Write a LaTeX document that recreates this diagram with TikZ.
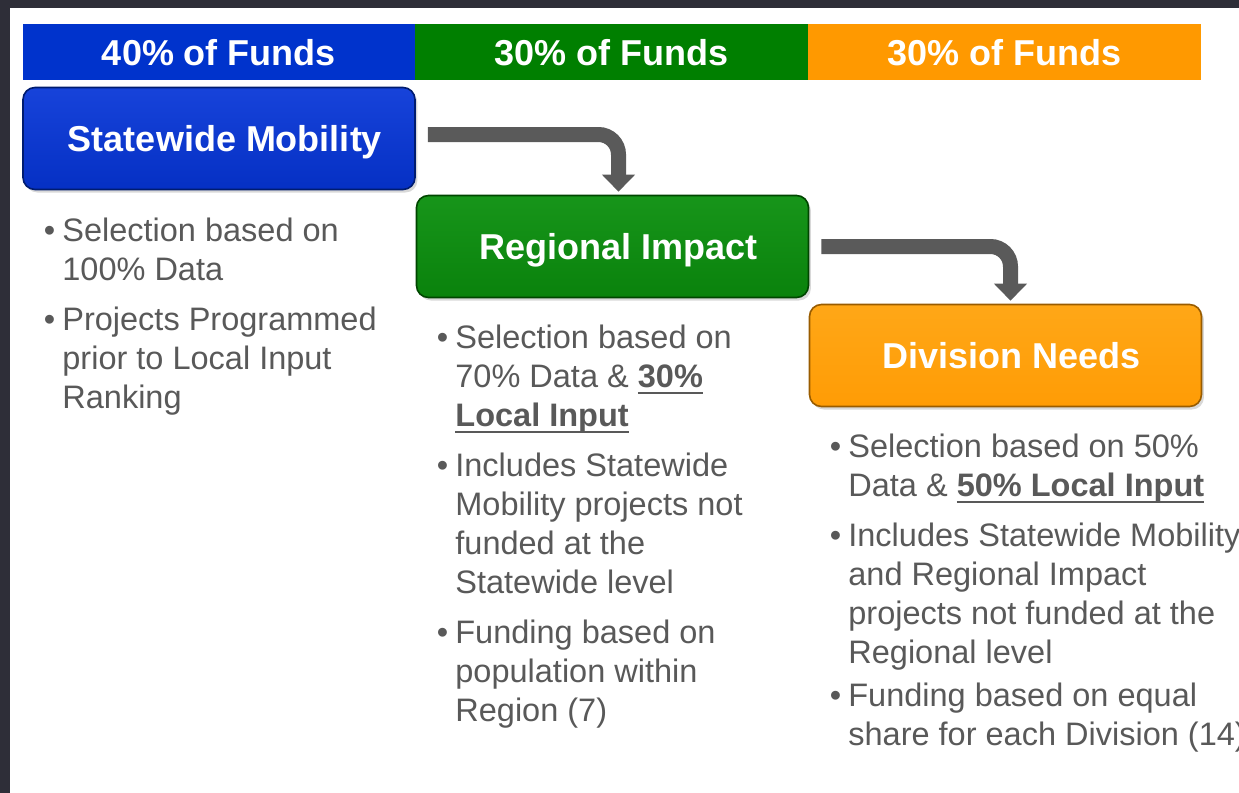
\documentclass[tikz,border=0pt]{standalone}
\usepackage{fontspec}
\setmainfont{Liberation Sans}
\usetikzlibrary{arrows.meta,shadows}

\definecolor{framedark}{HTML}{2E2E38}
\definecolor{fundblue}{HTML}{0033CC}
\definecolor{fundgreen}{HTML}{007F00}
\definecolor{fundorange}{HTML}{FF9900}
\definecolor{notegray}{HTML}{595959}
\definecolor{flowgray}{HTML}{5A5A5A}
\definecolor{smtop}{HTML}{1743DA}
\definecolor{smbot}{HTML}{0530C4}
\definecolor{ritop}{HTML}{17951A}
\definecolor{ribot}{HTML}{0A820C}
\definecolor{dntop}{HTML}{FFA717}
\definecolor{dnbot}{HTML}{FF9C05}

\newsavebox\ulbox
\newcommand{\ulb}[1]{\sbox\ulbox{\textbf{#1}}\usebox\ulbox\llap{\rule[-3.2pt]{\wd\ulbox}{1pt}}}
\newcommand{\bulpt}{\strut\llap{\textbullet\hspace{3.6pt}}}

\tikzset{
  fundbar/.style={rectangle, fill=#1, minimum width=196.5pt, minimum height=28pt,
    inner sep=0pt, text=white, font=\fontsize{18}{20}\selectfont\bfseries,
    text height=13pt, text depth=0pt},
  stagebox/.style n args={3}{rectangle, rounded corners=6pt, top color=#1, bottom color=#2,
    draw=#3, line width=0.8pt, minimum width=196pt, minimum height=51pt, inner sep=0pt,
    text=white, font=\fontsize{18}{20}\selectfont\bfseries, text height=13pt, text depth=0pt,
    execute at begin node=\hspace*{6pt},
    drop shadow={opacity=0.3, shadow xshift=1.2pt, shadow yshift=-1.5pt}},
  notes/.style={anchor=north west, inner sep=0pt, align=left, text=notegray,
    font=\fontsize{16.25}{19.5}\selectfont},
  flow/.style={draw=flowgray, line width=7.5pt, rounded corners=10pt,
    -{Triangle[width=16pt,length=8.5pt]}},
}

\begin{document}
\begin{tikzpicture}[x=0.5pt,y=-0.5pt]
        \useasboundingbox (0,0) rectangle (1239,793);
        \fill[white] (0,0) rectangle (1239,793);
        \fill[framedark] (0,0) rectangle (1239,8);
        \fill[framedark] (0,0) rectangle (10,793);

        \node[fundbar=fundblue] (h1) at (219,52) {40\% of Funds};
        \node[fundbar=fundgreen] (h2) at (611.5,52) {30\% of Funds};
        \node[fundbar=fundorange] (h3) at (1004.5,52) {30\% of Funds};

        \node[stagebox={smtop}{smbot}{fundblue!55!black}] (sm) at (219,138.5) {Statewide Mobility};
        \node[stagebox={ritop}{ribot}{fundgreen!55!black}] (ri) at (612.5,246.5) {Regional Impact};
        \node[stagebox={dntop}{dnbot}{fundorange!60!black}] (dn) at (1005.5,355.5) {Division Needs};

        \draw[flow] ([xshift=6pt,yshift=2pt]sm.east) -| ([xshift=3pt,yshift=1.5pt]ri.north);
        \draw[flow] ([xshift=6pt]ri.east) -| ([xshift=2.5pt,yshift=1.5pt]dn.north);

        \node[notes] (t1) at (62,213.7) {\bulpt Selection based on\\
          100\% Data\\[5.5pt]
          \bulpt Projects Programmed\\
          prior to Local Input\\
          Ranking};
        \node[notes] (t2) at (455,320.7) {\bulpt Selection based on\\
          70\% Data \& \ulb{30\%}\\
          \ulb{Local Input}\\[5.5pt]
          \bulpt Includes Statewide\\
          Mobility projects not\\
          funded at the\\
          Statewide level\\[5.5pt]
          \bulpt Funding based on\\
          population within\\
          Region (7)};
        \node[notes] (t3) at (848,429.7) {\bulpt Selection based on 50\%\\
          Data \& \ulb{50\% Local Input}\\[5.5pt]
          \bulpt Includes Statewide Mobility\\
          and Regional Impact\\
          projects not funded at the\\
          Regional level\\[2pt]
          \bulpt Funding based on equal\\
          share for each Division (14)};
      \end{tikzpicture}
\end{document}
